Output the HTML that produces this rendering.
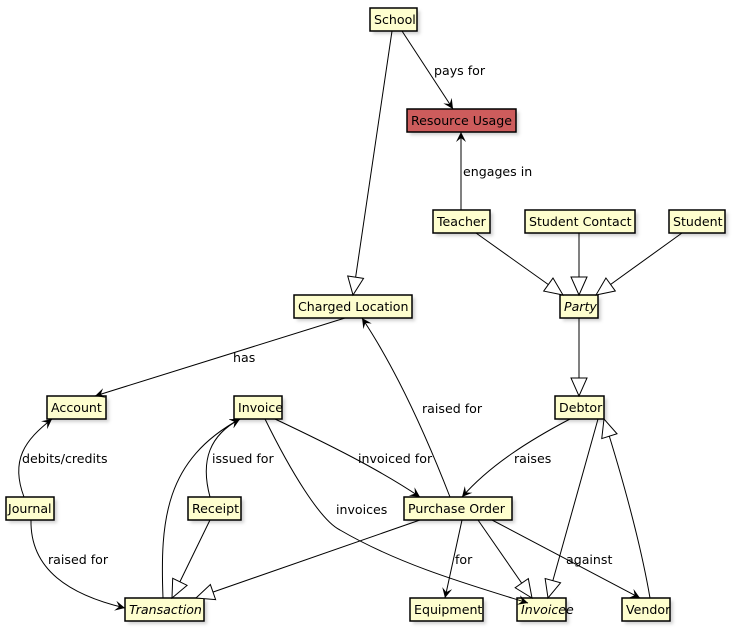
<!DOCTYPE html>
<html><head><meta charset="utf-8"><style>
html,body{margin:0;padding:0;background:#fff;}
svg{display:block;font-family:"DejaVu Sans","Liberation Sans",sans-serif;font-size:12.6px;}
.n{fill:#FEFECE;stroke:#000;stroke-width:1.5;}
.s{fill:#999;opacity:0.45;}
.e{fill:none;stroke:#000;stroke-width:1;}
</style></head><body>
<svg width="735" height="631" viewBox="0 0 735 631">
<defs>
<filter id="b"><feGaussianBlur stdDeviation="1.5"/></filter>
<marker id="a" markerWidth="12" markerHeight="12" refX="10" refY="5" orient="auto" markerUnits="userSpaceOnUse"><path d="M0,0 L10,5 L0,10 L4,5 Z" fill="#000"/></marker>
<marker id="t" markerWidth="22" markerHeight="22" refX="19" refY="9" orient="auto" markerUnits="userSpaceOnUse"><path d="M1,1 L19,9 L1,17 Z" fill="#fff" stroke="#000"/></marker>
</defs>
<g filter="url(#b)" class="s">
<rect x="373" y="11" width="47" height="23"/><rect x="410" y="112" width="109" height="23"/>
<rect x="436" y="213" width="57" height="23"/><rect x="528" y="213" width="110" height="23"/>
<rect x="672" y="213" width="56" height="23"/><rect x="297" y="298" width="118" height="23"/>
<rect x="563" y="298" width="38" height="23"/><rect x="50" y="399" width="59" height="23"/>
<rect x="237" y="399" width="48" height="23"/><rect x="558" y="399" width="49" height="23"/>
<rect x="9" y="500" width="48" height="23"/><rect x="191" y="500" width="53" height="23"/>
<rect x="407" y="500" width="108" height="23"/><rect x="128" y="601" width="79" height="23"/>
<rect x="413" y="601" width="73" height="23"/><rect x="520" y="601" width="49" height="23"/>
<rect x="625" y="601" width="48" height="23"/>
</g>
<g>
<rect class="n" x="370" y="8" width="47" height="23"/><text x="374" y="24">School</text>
<rect x="407" y="109" width="109" height="23" fill="#CD5C5C" stroke="#000" stroke-width="1.5"/><text x="411" y="125">Resource Usage</text>
<rect class="n" x="433" y="210" width="57" height="23"/><text x="437" y="226">Teacher</text>
<rect class="n" x="525" y="210" width="110" height="23"/><text x="529" y="226">Student Contact</text>
<rect class="n" x="669" y="210" width="56" height="23"/><text x="673" y="226">Student</text>
<rect class="n" x="294" y="295" width="118" height="23"/><text x="298" y="311">Charged Location</text>
<rect class="n" x="560" y="295" width="38" height="23"/><text x="564" y="311" font-style="italic">Party</text>
<rect class="n" x="47" y="396" width="59" height="23"/><text x="51" y="412">Account</text>
<rect class="n" x="234" y="396" width="48" height="23"/><text x="238" y="412">Invoice</text>
<rect class="n" x="555" y="396" width="49" height="23"/><text x="559" y="412">Debtor</text>
<rect class="n" x="6" y="497" width="48" height="23"/><text x="8" y="513">Journal</text>
<rect class="n" x="188" y="497" width="53" height="23"/><text x="192" y="513">Receipt</text>
<rect class="n" x="404" y="497" width="108" height="23"/><text x="408" y="513">Purchase Order</text>
<rect class="n" x="125" y="598" width="79" height="23"/><text x="129" y="614" font-style="italic">Transaction</text>
<rect class="n" x="410" y="598" width="73" height="23"/><text x="414" y="614">Equipment</text>
<rect class="n" x="517" y="598" width="49" height="23"/><text x="521" y="614" font-style="italic">Invoicee</text>
<rect class="n" x="622" y="598" width="48" height="23"/><text x="626" y="614">Vendor</text>
</g>
<g class="e">
<path d="M392,31 L353,295" marker-end="url(#t)"/>
<path d="M402,31 L453,109" marker-end="url(#a)"/>
<path d="M461,210 L461,132" marker-end="url(#a)"/>
<path d="M476,233 L563,295" marker-end="url(#t)"/>
<path d="M579,233 L579,295" marker-end="url(#t)"/>
<path d="M682,233 L596,295" marker-end="url(#t)"/>
<path d="M579,318 L579,396" marker-end="url(#t)"/>
<path d="M345,318 L95,396" marker-end="url(#a)"/>
<path d="M24,497 C10,460 25,440 52,419" marker-end="url(#a)"/>
<path d="M31,520 C30,570 70,595 125,608" marker-end="url(#a)"/>
<path d="M275,419 C330,445 380,470 420,497" marker-end="url(#a)"/>
<path d="M265,419 C290,470 320,520 340,530 C400,565 470,585 528,603" marker-end="url(#a)"/>
<path d="M163,598 C160,520 165,460 240,419" marker-end="url(#a)"/>
<path d="M210,497 C200,460 210,435 240,419" marker-end="url(#a)"/>
<path d="M210,520 L172,598" marker-end="url(#t)"/>
<path d="M420,520 L196,598" marker-end="url(#t)"/>
<path d="M450,497 C420,420 390,360 362,318" marker-end="url(#a)"/>
<path d="M570,419 C530,440 490,465 462,497" marker-end="url(#a)"/>
<path d="M598,419 L548,598" marker-end="url(#t)"/>
<path d="M650,598 C640,540 620,470 604,419" marker-end="url(#t)"/>
<path d="M462,520 L445,598" marker-end="url(#a)"/>
<path d="M478,520 L532,598" marker-end="url(#t)"/>
<path d="M492,520 L640,598" marker-end="url(#a)"/>
</g>
<g>
<text x="434" y="75">pays for</text>
<text x="463" y="176">engages in</text>
<text x="233" y="362">has</text>
<text x="22" y="463">debits/credits</text>
<text x="212" y="463">issued for</text>
<text x="48" y="564">raised for</text>
<text x="358" y="463">invoiced for</text>
<text x="336" y="514">invoices</text>
<text x="422" y="413">raised for</text>
<text x="514" y="463">raises</text>
<text x="455" y="564">for</text>
<text x="566" y="564">against</text>
</g>
</svg>
</body></html>
